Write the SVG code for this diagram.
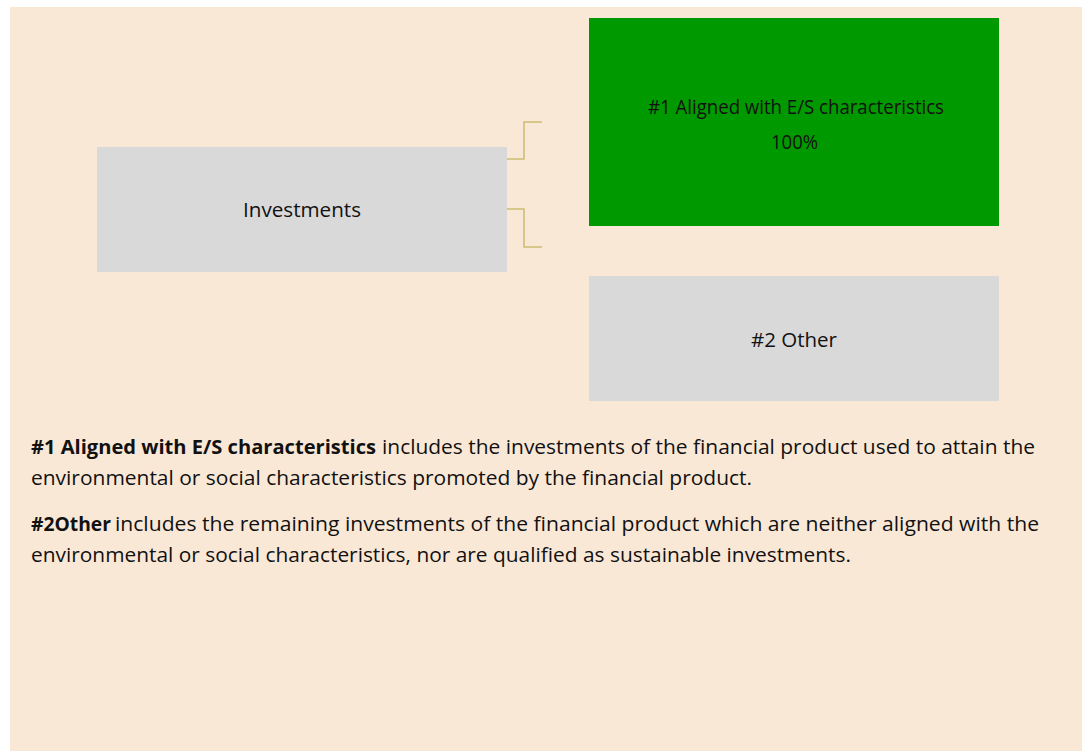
<svg xmlns="http://www.w3.org/2000/svg" width="1082" height="751" viewBox="0 0 1082 751">
<style>
  text { font-family: "Open Sans", "Liberation Sans", sans-serif; font-size: 20px; fill: #111111; }
  .b { font-weight: bold; }
  .c { text-anchor: middle; }
  .grey { fill: #D9D9D9; }
  .green { fill: #009900; }
  .conn { fill: none; stroke: #CBBC72; stroke-width: 1.5; }
</style>
<rect x="10" y="7" width="1072" height="744" fill="#FAE8D7"/>
<g id="connectors">
  <polyline class="conn" points="507,159 524,159 524,122 542,122"/>
  <polyline class="conn" points="507,209 524,209 524,247 542,247"/>
</g>
<g id="investments">
  <rect class="grey" x="97" y="147" width="410" height="125"/>
  <text class="c" x="302" y="216.5" textLength="118" lengthAdjust="spacingAndGlyphs">Investments</text>
</g>
<g id="aligned">
  <rect class="green" x="589" y="18" width="410" height="208"/>
  <text class="c" x="796" y="113.5" textLength="296" lengthAdjust="spacingAndGlyphs">#1 Aligned with E/S characteristics</text>
  <text class="c" x="794.5" y="149" textLength="47" lengthAdjust="spacingAndGlyphs">100%</text>
</g>
<g id="other">
  <rect class="grey" x="589" y="276" width="410" height="125"/>
  <text class="c" x="794" y="347" textLength="86" lengthAdjust="spacingAndGlyphs">#2 Other</text>
</g>
<g id="description">
  <text class="b" x="31" y="453.5" textLength="345" lengthAdjust="spacingAndGlyphs">#1 Aligned with E/S characteristics</text>
  <text x="382" y="453.5" textLength="653" lengthAdjust="spacingAndGlyphs">includes the investments of the financial product used to attain the</text>
  <text x="31" y="485" textLength="721" lengthAdjust="spacingAndGlyphs">environmental or social characteristics promoted by the financial product.</text>
  <text class="b" x="31" y="530.5" textLength="80" lengthAdjust="spacingAndGlyphs">#2Other</text>
  <text x="115" y="530.5" textLength="924" lengthAdjust="spacingAndGlyphs">includes the remaining investments of the financial product which are neither aligned with the</text>
  <text x="31" y="561.5" textLength="820" lengthAdjust="spacingAndGlyphs">environmental or social characteristics, nor are qualified as sustainable investments.</text>
</g>
</svg>
